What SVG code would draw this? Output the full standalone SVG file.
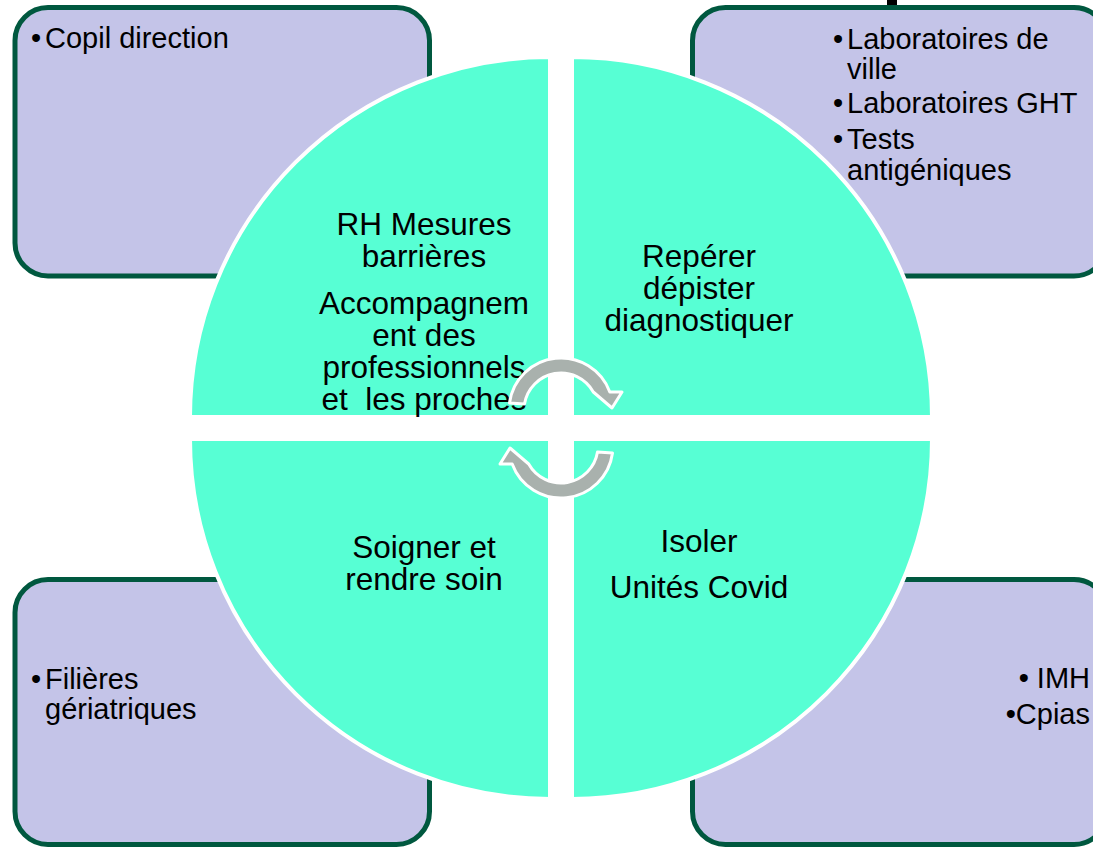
<svg xmlns="http://www.w3.org/2000/svg" width="1093" height="848" viewBox="0 0 1093 848">
<style>
.box{fill:#C4C4E8;stroke:#00583F;stroke-width:5}
.quad{fill:#57FFD4;stroke:#FFFFFF;stroke-width:4}
.arrow{fill:#A9B1AD;stroke:#FFFFFF;stroke-width:3;stroke-linejoin:round}
.bt{font-family:"Liberation Sans",Arial,sans-serif;font-size:29px;fill:#000}
.ct{font-family:"Liberation Sans",Arial,sans-serif;font-size:31.5px;fill:#000;text-anchor:middle;white-space:pre}
</style>
<defs>
<path id="arr" d="M -51.5,-7 A 52 52 0 0 1 48.8,-18 L 61,-18 L 51,-2 L 32.3,-18 A 37 37 0 0 0 -36.5,-6 Z"/>
</defs>
<rect width="1093" height="848" fill="#FFFFFF"/>
<rect x="887" y="0" width="10" height="6" fill="#000"/>

<g id="box-tl">
<rect class="box" x="15" y="7.5" width="414.5" height="268.5" rx="33"/>
<text class="bt" y="48"><tspan x="31">•</tspan><tspan x="45">Copil direction</tspan></text>
</g>
<g id="box-tr">
<rect class="box" x="692.5" y="7.5" width="414.5" height="268.5" rx="33"/>
<text class="bt"><tspan x="833" y="49">•</tspan><tspan x="847" y="49">Laboratoires de</tspan><tspan x="847" y="79">ville</tspan><tspan x="833" y="113">•</tspan><tspan x="847" y="113">Laboratoires GHT</tspan><tspan x="833" y="149">•</tspan><tspan x="847" y="149">Tests</tspan><tspan x="847" y="180">antigéniques</tspan></text>
</g>
<g id="box-bl">
<rect class="box" x="15" y="579.5" width="414.5" height="265" rx="33"/>
<text class="bt"><tspan x="31" y="689">•</tspan><tspan x="45" y="689">Filières</tspan><tspan x="45" y="719">gériatriques</tspan></text>
</g>
<g id="box-br">
<rect class="box" x="692.5" y="579.5" width="414.5" height="265" rx="33"/>
<text class="bt" text-anchor="end"><tspan x="1090" y="688">• IMH</tspan><tspan x="1090" y="724">•Cpias</tspan></text>
</g>

<g id="quad-tl">
<path class="quad" d="M550,417 L190,417 A360,360 0 0 1 550,57 Z"/>
<text class="ct" xml:space="preserve"><tspan x="424" y="235">RH Mesures</tspan><tspan x="424" y="267">barrières</tspan><tspan x="424" y="314">Accompagnem</tspan><tspan x="424" y="346">ent des</tspan><tspan x="424" y="378">professionnels</tspan><tspan x="424" y="410">et  les proches</tspan></text>
</g>
<g id="quad-tr">
<path class="quad" d="M572,417 L572,57 A360,360 0 0 1 932,417 Z"/>
<text class="ct"><tspan x="699" y="267">Repérer</tspan><tspan x="699" y="299">dépister</tspan><tspan x="699" y="331">diagnostiquer</tspan></text>
</g>
<g id="quad-bl">
<path class="quad" d="M550,439 L550,799 A360,360 0 0 1 190,439 Z"/>
<text class="ct"><tspan x="424" y="558">Soigner et</tspan><tspan x="424" y="590">rendre soin</tspan></text>
</g>
<g id="quad-br">
<path class="quad" d="M572,439 L932,439 A360,360 0 0 1 572,799 Z"/>
<text class="ct"><tspan x="699" y="552">Isoler</tspan><tspan x="699" y="598">Unités Covid</tspan></text>
</g>

<g id="connectors">
<use href="#arr" class="arrow" transform="translate(561,410)"/>
<use href="#arr" class="arrow" transform="translate(561,446) rotate(180)"/>
</g>
</svg>
